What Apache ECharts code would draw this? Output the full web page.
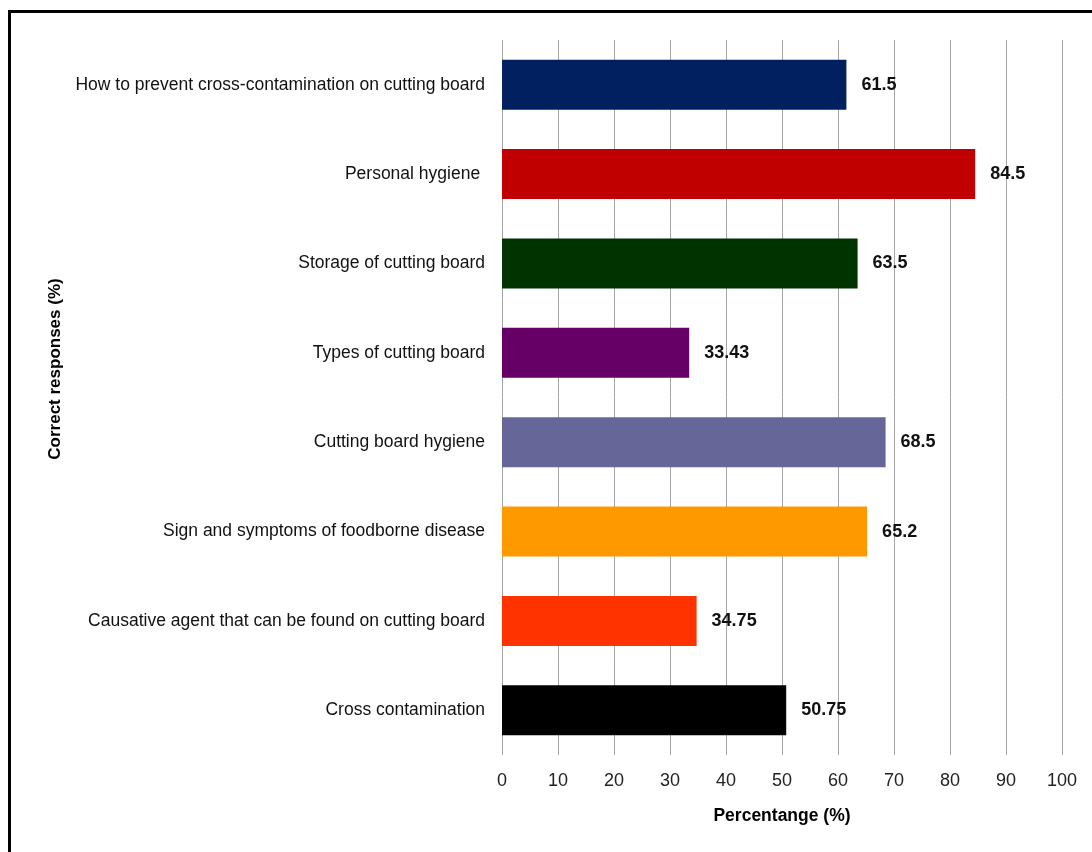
<!DOCTYPE html>
<html>
<head>
<meta charset="utf-8">
<script src="https://cdn.jsdelivr.net/npm/echarts@6/dist/echarts.min.js"></script>
<style>
  html, body { margin: 0; padding: 0; background: #fff; }
  #chart { width: 1092px; height: 852px; }
</style>
</head>
<body>
<div id="chart"></div>
<script>
// categories top to bottom as in the picture
const categories = [
  "How to prevent cross-contamination on cutting board",
  "Personal hygiene ",
  "Storage of cutting board",
  "Types of cutting board",
  "Cutting board hygiene",
  "Sign and symptoms of foodborne disease",
  "Causative agent that can be found on cutting board",
  "Cross contamination"
];
const values = [61.5, 84.5, 63.5, 33.43, 68.5, 65.2, 34.75, 50.75];
const barColors = ["#002060", "#C00000", "#003300", "#660066", "#666699", "#FF9900", "#FF3300", "#000000"];
const xTicks = [0, 100, 10]; // min, max, interval

let myChart = echarts.init(document.getElementById("chart"));
myChart.setOption({
  animation: false,
  textStyle: { fontFamily: "Liberation Sans, Arial, sans-serif" },
  graphic: [
    {
      // frame round the chart (right and bottom edges run off the picture)
      type: "rect",
      shape: { x: 9.5, y: 11.5, width: 1200, height: 1000 },
      style: { fill: "none", stroke: "#000", lineWidth: 3 }
    },
    {
      type: "text",
      x: 55, y: 369,
      rotation: Math.PI / 2,
      style: {
        text: "Correct responses (%)",
        font: "bold 17px Liberation Sans, Arial, sans-serif",
        fill: "#000",
        align: "center",
        verticalAlign: "middle"
      }
    }
  ],
  grid: { left: 502, right: 30, top: 40, bottom: 97 },
  xAxis: {
    type: "value",
    min: xTicks[0],
    max: xTicks[1],
    interval: xTicks[2],
    name: "Percentange (%)",
    nameLocation: "middle",
    nameGap: 52,
    nameTextStyle: { fontWeight: "bold", fontSize: 17.5, color: "#000" },
    axisLine: { show: false },
    axisTick: { show: false },
    axisLabel: { fontSize: 18, color: "#222", margin: 17 },
    splitLine: { show: true, lineStyle: { color: "#a6a6a6", width: 1 } }
  },
  yAxis: {
    type: "category",
    inverse: true,
    data: categories,
    axisLine: { show: false },
    axisTick: { show: false },
    axisLabel: { fontSize: 17.5, color: "#111", margin: 17 }
  },
  series: [
    {
      type: "bar",
      barWidth: "56%",
      data: values.map((v, i) => ({ value: v, itemStyle: { color: barColors[i] } })),
      label: {
        show: true,
        position: "right",
        distance: 15,
        fontWeight: "bold",
        fontSize: 18,
        color: "#111"
      }
    }
  ]
});
</script>
</body>
</html>
